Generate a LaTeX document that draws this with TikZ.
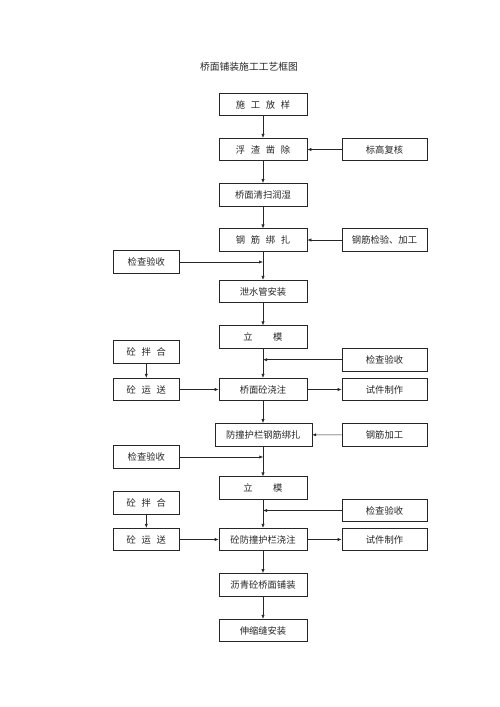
\documentclass[tikz,border=0pt]{standalone}
\usepackage{fontspec}
\setmainfont{Noto Sans CJK SC}
\usetikzlibrary{arrows.meta}
\newcommand{\gp}{\hspace{0.62em}}
\begin{document}
\begin{tikzpicture}[x=1pt,y=-1pt,
  box/.style={draw=black!85,line width=0.6pt,minimum height=22.5pt,inner sep=0pt,font=\fontsize{9.3}{11}\selectfont,text=black!85},
  mainbox/.style={box,minimum width=88pt},
  sidebox/.style={box,minimum width=85pt},
  leftbox/.style={box,minimum width=66pt},
  arr/.style={draw=black!85,line width=0.6pt,-{Latex[length=4pt,width=3.2pt]}}]
\useasboundingbox (0,0) rectangle (500,707);
\node[font=\fontsize{9.8}{12}\selectfont,text=black!85] (title) at (249,66.5) {桥面铺装施工工艺框图};
% main column
\node[mainbox] (m1) at (263,104.5) {施\gp 工\gp 放\gp 样};
\node[mainbox] (m2) at (263,149.5) {浮\gp 渣\gp 凿\gp 除};
\node[mainbox] (m3) at (263,194.7) {桥面清扫润湿};
\node[mainbox] (m4) at (263,240) {钢\gp 筋\gp 绑\gp 扎};
\node[mainbox] (m5) at (263,291.5) {泄水管安装};
\node[mainbox] (m6) at (263,337) {立\hspace{2.2em}模};
\node[mainbox] (m7) at (263,389.5) {桥面砼浇注};
\node[box,minimum width=97pt] (m8) at (263.3,434.7) {防撞护栏钢筋绑扎};
\node[mainbox] (m9) at (263,488) {立\hspace{2.2em}模};
\node[mainbox] (m10) at (263,539.5) {砼防撞护栏浇注};
\node[mainbox] (m11) at (263,584.7) {沥青砼桥面铺装};
\node[mainbox] (m12) at (263,630.5) {伸缩缝安装};
% right column
\node[sidebox] (r1) at (384.5,149.5) {标高复核};
\node[sidebox] (r2) at (384.5,240) {钢筋检验、加工};
\node[sidebox] (r3) at (384.5,359.7) {检查验收};
\node[sidebox] (r4) at (384.5,389.5) {试件制作};
\node[sidebox] (r5) at (384.5,435) {钢筋加工};
\node[sidebox] (r6) at (384.5,510.5) {检查验收};
\node[sidebox] (r7) at (384.5,539.5) {试件制作};
% left column
\node[leftbox] (l1) at (146.3,262) {检查验收};
\node[leftbox] (l2) at (146.3,352) {砼\gp 拌\gp 合};
\node[leftbox] (l3) at (146.3,389.5) {砼\gp 运\gp 送};
\node[leftbox] (l4) at (146.3,457) {检查验收};
\node[leftbox] (l5) at (146.3,503) {砼\gp 拌\gp 合};
\node[leftbox] (l6) at (146.3,539.5) {砼\gp 运\gp 送};
% main flow
\draw[arr] (m1) -- (m2);
\draw[arr] (m2) -- (m3);
\draw[arr] (m3) -- (m4);
\draw[arr] (m4) -- (m5);
\draw[arr] (m5) -- (m6);
\draw[arr] (m6) -- (m7);
\draw[arr] (m7) -- (m7 |- m8.north);
\draw[arr] (m8.south -| m7) -- (m9);
\draw[arr] (m9) -- (m10);
\draw[arr] (m10) -- (m11);
\draw[arr] (m11) -- (m12);
% side inputs
\draw[arr] (r1) -- (m2);
\draw[arr] (r2) -- (m4);
\draw[arr] (l1.east) -- (l1.east -| m4.south);
\draw[arr] (r3.west) -- (r3.west -| m6.south);
\draw[arr] (l2) -- (l3);
\draw[arr] (l3) -- (m7);
\draw[arr] (m7) -- (r4);
\draw[arr] (r5) -- (m8);
\draw[arr] (l4.east) -- (l4.east -| m8.south);
\draw[arr] (r6.west) -- (r6.west -| m9.south);
\draw[arr] (l5) -- (l6);
\draw[arr] (l6) -- (m10);
\draw[arr] (m10) -- (r7);
\end{tikzpicture}
\end{document}
